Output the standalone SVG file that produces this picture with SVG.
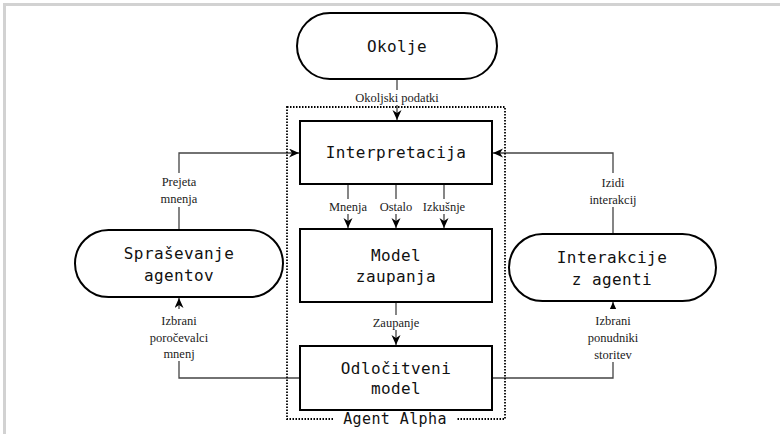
<svg xmlns="http://www.w3.org/2000/svg" width="780" height="434" viewBox="0 0 780 434">
<style>
.box{fill:#fff;stroke:#000;stroke-width:2}
.mono{font-family:"DejaVu Sans Mono","Liberation Mono",monospace;font-size:16px;fill:#111;text-anchor:middle;letter-spacing:0.4px}
.lbl{font-family:"Liberation Serif",serif;font-size:12.5px;fill:#222;text-anchor:middle}
.conn{fill:none;stroke:#444;stroke-width:1.3}
.bg{fill:#fff}
</style>
<defs>
<marker id="arr" markerUnits="userSpaceOnUse" markerWidth="12" markerHeight="10" refX="10" refY="4.5" orient="auto">
<path d="M0,0 L10,4.5 L0,9 L3,4.5 z" fill="#000"/>
</marker>
</defs>
<rect width="780" height="434" fill="#fff"/>
<path d="M4.5,434 V4.5 H780" fill="none" stroke="#d2d2d2" stroke-width="3"/>

<g id="connectors">
<path class="conn" d="M397,79 V120" marker-end="url(#arr)"/>
<path class="conn" d="M348,184 V228" marker-end="url(#arr)"/>
<path class="conn" d="M396,184 V228" marker-end="url(#arr)"/>
<path class="conn" d="M444,184 V228" marker-end="url(#arr)"/>
<path class="conn" d="M396,302 V345" marker-end="url(#arr)"/>
<path class="conn" d="M179,230 V153 H299" marker-end="url(#arr)"/>
<path class="conn" d="M300,378 H179 V298" marker-end="url(#arr)"/>
<path class="conn" d="M613,234 V153 H493" marker-end="url(#arr)"/>
<path class="conn" d="M492,378 H613 V302" marker-end="url(#arr)"/>
</g>

<g id="agent-alpha">
<rect x="287" y="107" width="218" height="312" fill="none" stroke="#000" stroke-width="1.8" stroke-dasharray="1.5 1.5"/>
<rect class="bg" x="333" y="411" width="124" height="16"/>
<text class="mono" x="395" y="424" style="font-size:15px">Agent Alpha</text>
</g>

<g id="labels">
<rect class="bg" x="350" y="90" width="94" height="15"/>
<text class="lbl" x="397" y="102">Okoljski podatki</text>
<rect class="bg" x="326" y="199" width="140" height="15"/>
<text class="lbl" x="348" y="211">Mnenja</text>
<text class="lbl" x="396" y="211">Ostalo</text>
<text class="lbl" x="444" y="211">Izkušnje</text>
<rect class="bg" x="370" y="315" width="52" height="15"/>
<text class="lbl" x="396" y="327">Zaupanje</text>
<rect class="bg" x="156" y="173" width="46" height="34"/>
<text class="lbl" x="179" y="186">Prejeta</text>
<text class="lbl" x="179" y="203">mnenja</text>
<rect class="bg" x="146" y="309" width="66" height="52"/>
<text class="lbl" x="179" y="325">Izbrani</text>
<text class="lbl" x="179" y="342">poročevalci</text>
<text class="lbl" x="179" y="358">mnenj</text>
<rect class="bg" x="587" y="173" width="52" height="34"/>
<text class="lbl" x="613" y="187">Izidi</text>
<text class="lbl" x="613" y="204">interakcij</text>
<rect class="bg" x="586" y="309" width="54" height="53"/>
<text class="lbl" x="613" y="325">Izbrani</text>
<text class="lbl" x="613" y="342">ponudniki</text>
<text class="lbl" x="613" y="359">storitev</text>
</g>

<g id="okolje">
<rect class="box" x="297" y="13" width="200" height="66" rx="33"/>
<text class="mono" x="397" y="52">Okolje</text>
</g>
<g id="interpretacija">
<rect class="box" x="300" y="121" width="192" height="63"/>
<text class="mono" x="396" y="158">Interpretacija</text>
</g>
<g id="model-zaupanja">
<rect class="box" x="300" y="229" width="192" height="73"/>
<text class="mono" x="396" y="261">Model</text>
<text class="mono" x="396" y="282">zaupanja</text>
</g>
<g id="odlocitveni-model">
<rect class="box" x="300" y="346" width="192" height="64"/>
<text class="mono" x="396" y="374">Odločitveni</text>
<text class="mono" x="396" y="394">model</text>
</g>
<g id="sprasevanje-agentov">
<rect class="box" x="75" y="230" width="208" height="67" rx="33.5"/>
<text class="mono" x="179" y="259">Spraševanje</text>
<text class="mono" x="179" y="281">agentov</text>
</g>
<g id="interakcije-z-agenti">
<rect class="box" x="509" y="234" width="207" height="67" rx="33.5"/>
<text class="mono" x="612" y="263">Interakcije</text>
<text class="mono" x="612" y="285">z agenti</text>
</g>
</svg>
